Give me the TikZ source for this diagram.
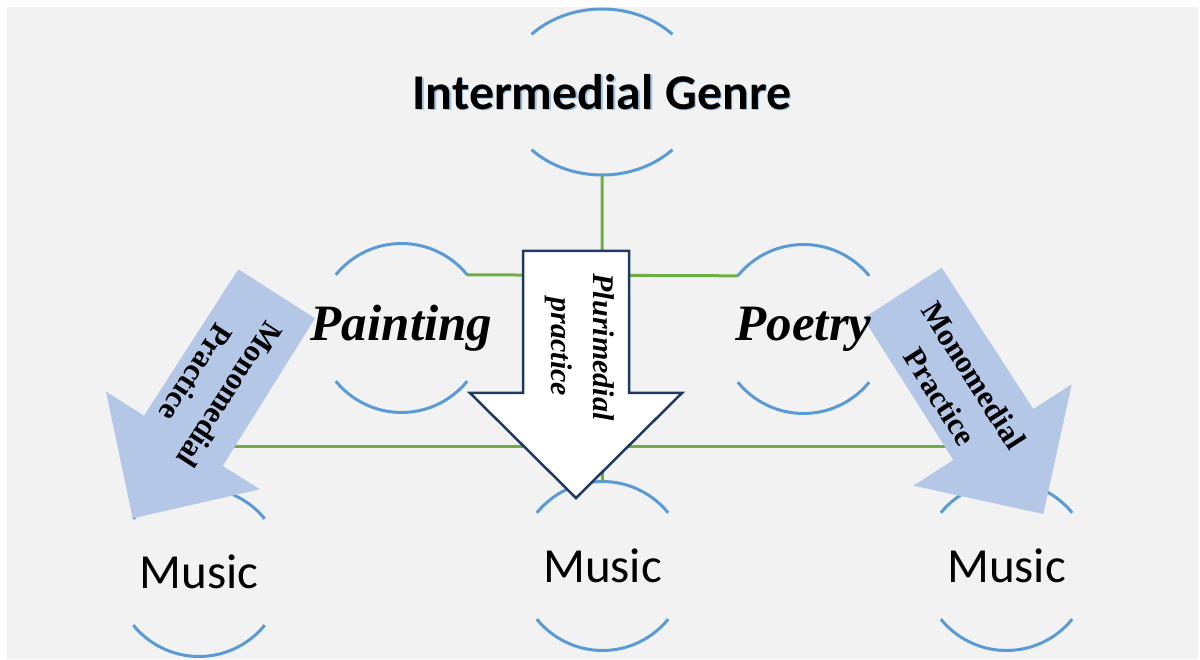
\documentclass[tikz,border=0pt]{standalone}
\usepackage{fontspec}
\setmainfont{Liberation Serif}
\newfontfamily\calibri{Carlito}
\usetikzlibrary{shapes.geometric, positioning, backgrounds}
\definecolor{panelgray}{HTML}{F2F2F2}
\definecolor{ringblue}{HTML}{5B9BD5}
\definecolor{linkgreen}{HTML}{70AD47}
\definecolor{paleblue}{HTML}{B4C7E7}
\definecolor{navyline}{HTML}{203864}
\definecolor{glowblue}{HTML}{9DC3E6}
\tikzset{
  hub/.style={circle, minimum size=169pt, inner sep=0pt, outer sep=0pt},
  genrehub/.style={ellipse, minimum width=196pt, minimum height=166pt, inner sep=0pt, outer sep=0pt},
  ring/.style={draw=ringblue, line width=3pt},
  link/.style={draw=linkgreen, line width=3pt},
  genrefont/.style={font=\calibri\bfseries\fontsize{50}{60}\selectfont},
  artname/.style={font=\bfseries\itshape\fontsize{51}{60}\selectfont},
  musicname/.style={font=\calibri\fontsize{49}{58}\selectfont},
  arrowtext/.style={align=center, font=\bfseries\fontsize{31}{40}\selectfont},
  monoarrow/.style={fill=paleblue},
  pluriarrow/.style={fill=white, draw=navyline, line width=2.5pt, line join=miter}
}

\begin{document}
\begin{tikzpicture}[x=1pt, y=1pt]

  \useasboundingbox (0,0) rectangle (1200,659);

  % hubs
  \node[genrehub] (genre)  at (602,567)   {};
  \node[hub]      (paint)  at (401.5,331) {};
  \node[hub]      (poet)   at (803.5,330) {};
  \node[hub]      (music1) at (199,87)    {};
  \node[hub]      (music2) at (602.5,93)  {};
  \node[hub]      (music3) at (1006.5,93) {};

  % open rings
  \draw[ring] ([shift={(44:98 and 83)}]genre.center)
    arc[start angle=44, end angle=136, x radius=98, y radius=83];
  \draw[ring] ([shift={(224:98 and 83)}]genre.center)
    arc[start angle=224, end angle=316, x radius=98, y radius=83];
  \foreach \hub in {paint, poet, music1, music2, music3} {
    \draw[ring] (\hub.39)  arc[start angle=39,  end angle=141, radius=84.5];
    \draw[ring] (\hub.219) arc[start angle=219, end angle=321, radius=84.5];
  }

  % connectors
  \coordinate (lowfork) at (602.5,212);
  \draw[link] (genre.south) -- (music2.north);
  \draw[link] (paint.39) -- (poet.141);
  \draw[link] (music1.north) |- (lowfork) -| (music3.north);

  % block arrows
  \fill[monoarrow] (238.3,389.7) -- (315,340.7) -- (222.7,193) -- (260,169.7)
    -- (132.7,140.7) -- (106,267.3) -- (144,243.3) -- cycle;
  \fill[monoarrow] (863.3,340.7) -- (941.7,391.3) -- (1033.3,250) -- (1071.7,274.7)
    -- (1043.3,145) -- (913.3,173.3) -- (953.3,199) -- cycle;
  \draw[pluriarrow] (523,408) -- (629,408) -- (629,266) -- (682,266)
    -- (576,161) -- (470,266) -- (523,266) -- cycle;

  % texts
  \node[genrefont, text=glowblue] (genreglow) at ([xshift=1.5pt, yshift=-1.5pt]genre.center) {Intermedial Genre};
  \node[genrefont] (genretext) at (genre) {Intermedial Genre};
  \node[artname] (painttext) at (paint) {Painting};
  \node[artname] (poettext)  at (poet)  {Poetry};
  \foreach \hub in {music1, music2, music3}
    \node[musicname] (\hub text) at (\hub) {Music};

  \node[arrowtext, font=\bfseries\itshape\fontsize{30}{42}\selectfont, rotate=-90] (plurilabel) at (580,312) {Plurimedial\\practice};
  \node[arrowtext, rotate=237]   (monoleft)  at (213,275) {Monomedial\\Practice};
  \node[arrowtext, rotate=-57.5] (monoright) at (957,273) {Monomedial\\Practice};

  \begin{scope}[on background layer]
    \fill[panelgray] (7,0) rectangle (1198,652);
  \end{scope}

\end{tikzpicture}
\end{document}
